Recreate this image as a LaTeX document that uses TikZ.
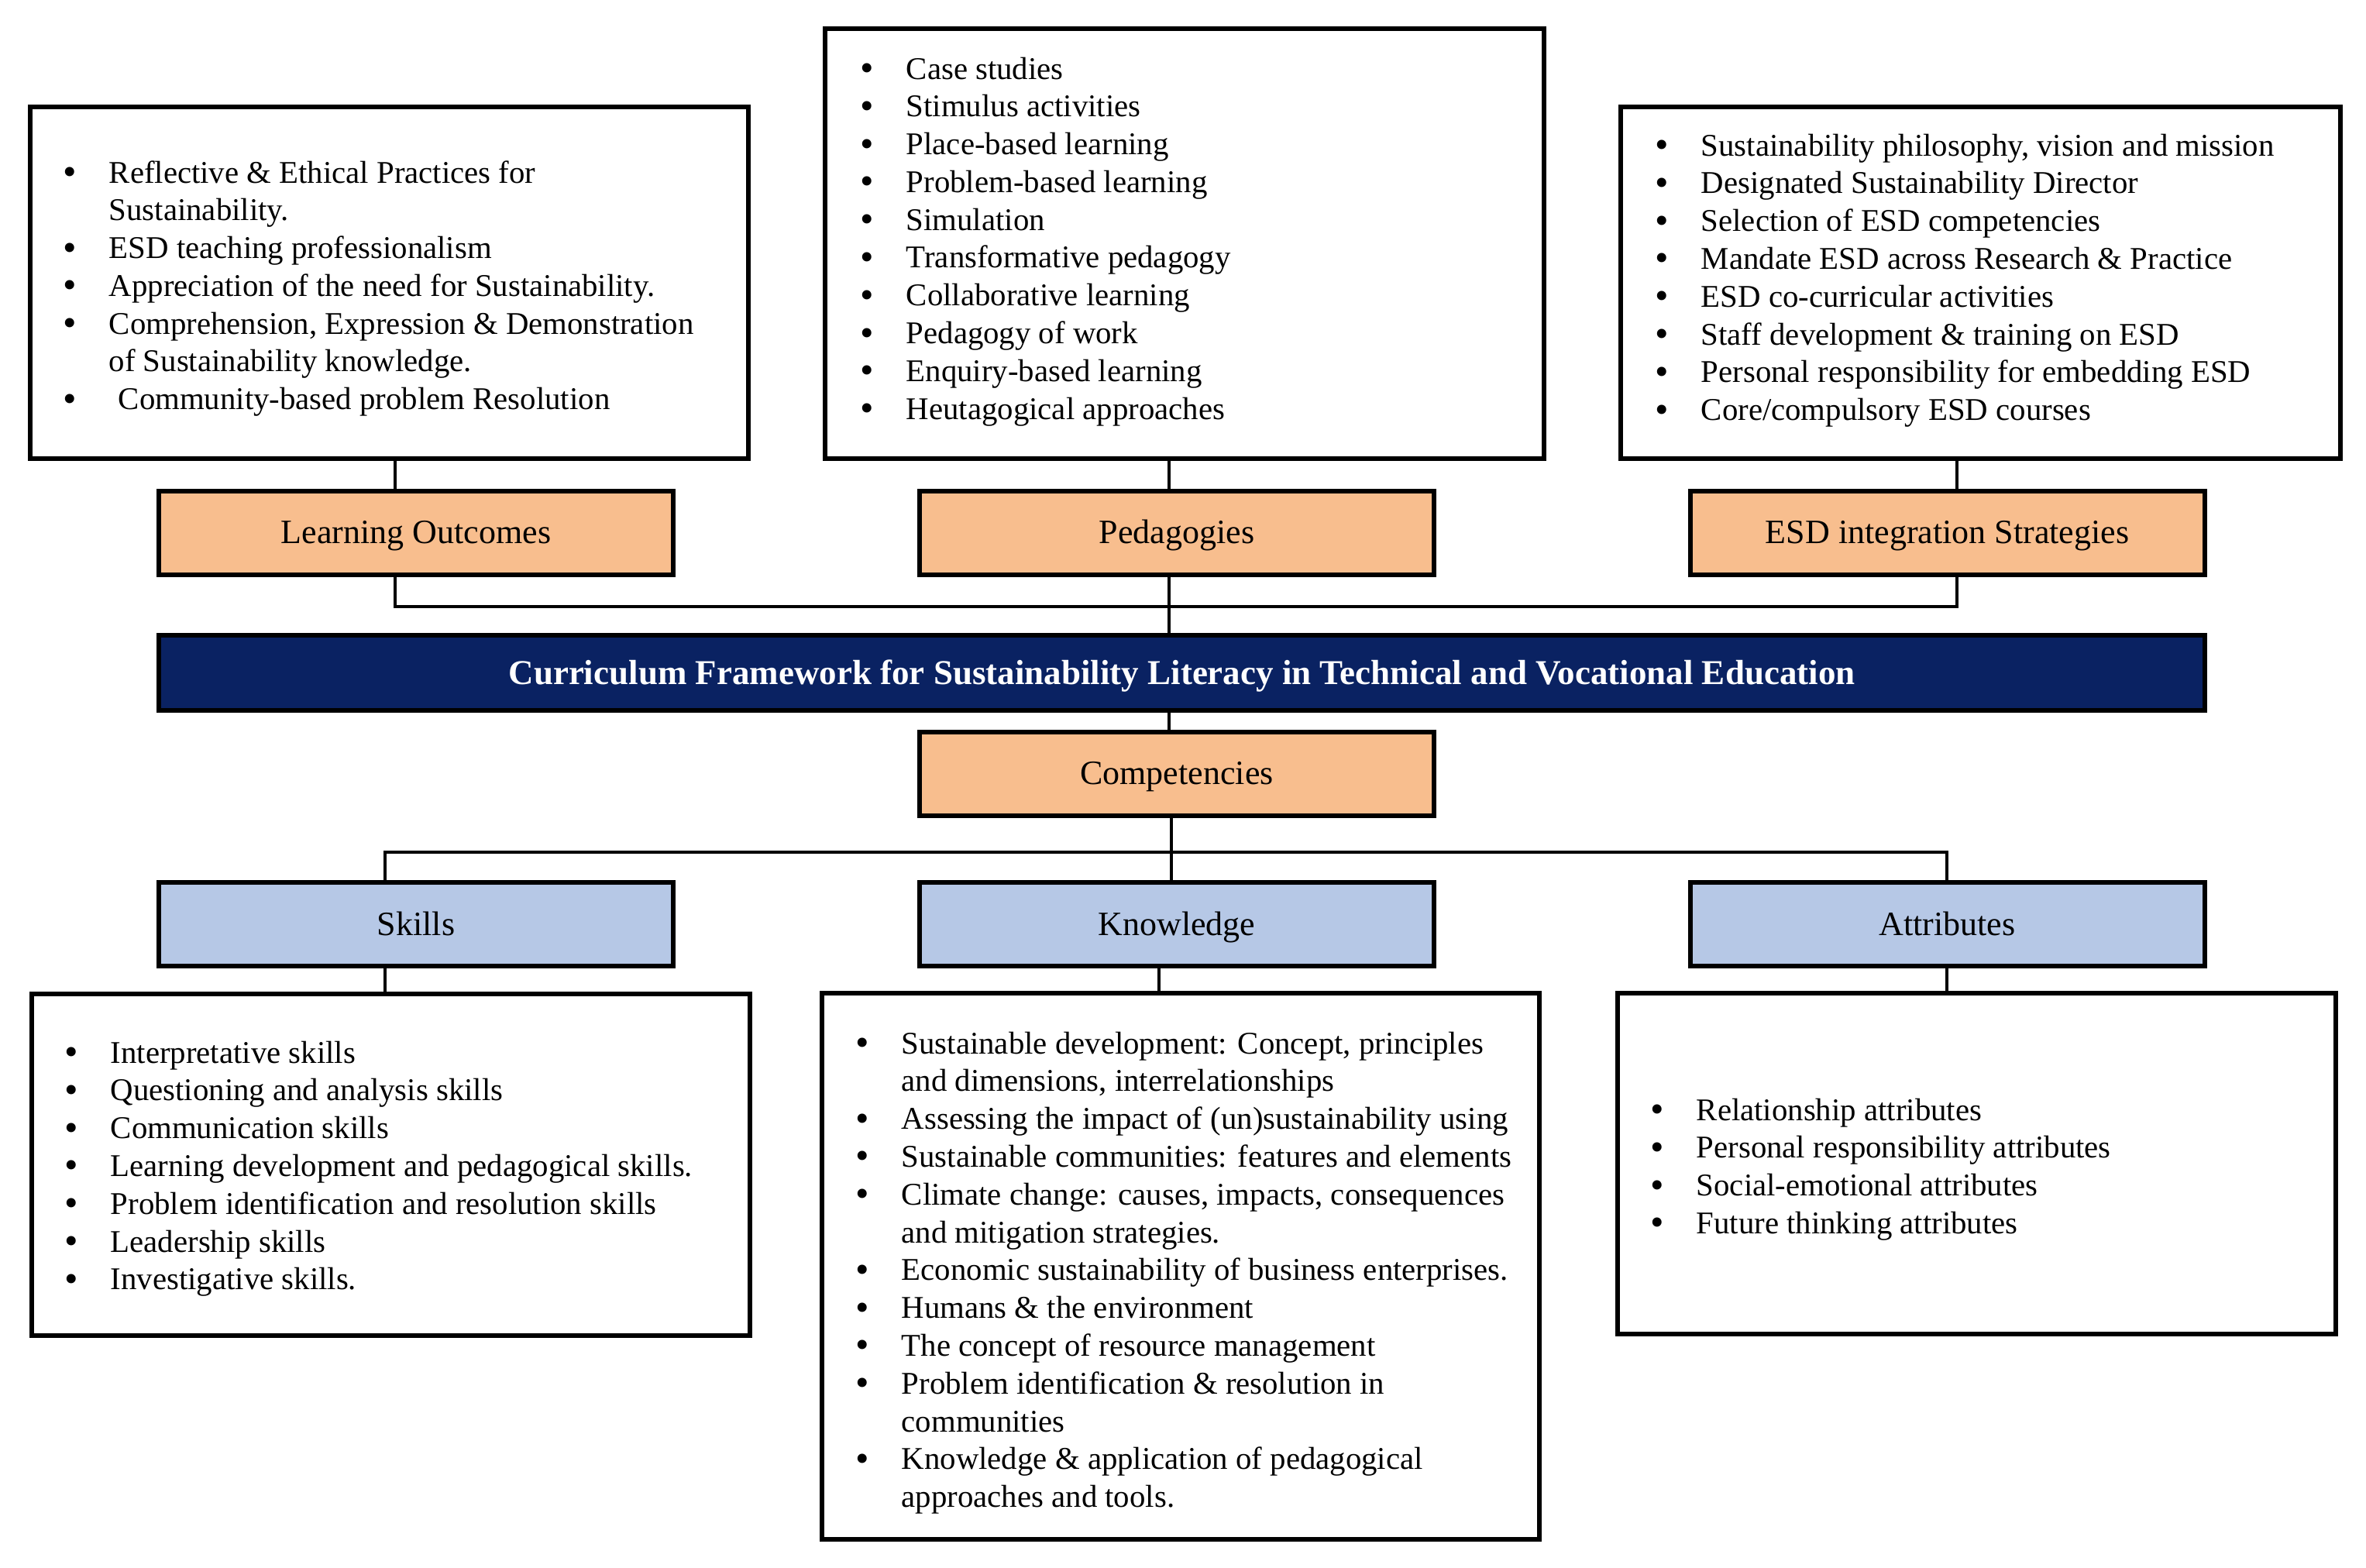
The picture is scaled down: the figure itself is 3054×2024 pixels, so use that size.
\documentclass[tikz,border=0pt]{standalone}
\usepackage{fontspec}
\setmainfont{Liberation Serif}
\usetikzlibrary{fit,calc}
\definecolor{peach}{RGB}{248,190,142}
\definecolor{paleblue}{RGB}{182,200,230}
\definecolor{navybar}{RGB}{10,34,98}
\newcommand{\listsize}{\fontsize{10.2}{12.2}\selectfont}
\newcommand{\bul}{\raisebox{-0.6pt}{\fontsize{12.5}{12}\selectfont\textbullet}}
\newenvironment{blist}{\begin{tabular}[t]{@{}p{14.75pt}@{}l@{}}}{\end{tabular}}
\tikzset{
  listbox/.style={draw=black, line width=1.7pt, fill=white, inner sep=0pt},
  lbl/.style={draw=black, line width=1.5pt, inner sep=0pt, font=\fontsize{11}{13}\selectfont, text=black,
    minimum width=166pt, minimum height=27pt, text height=7.2pt, text depth=0pt},
  orangebox/.style={lbl, fill=peach},
  bluebox/.style={lbl, fill=paleblue},
  titlebar/.style={draw=black, line width=1.5pt, fill=navybar, inner sep=0pt, text=white,
    font=\fontsize{11.25}{13}\selectfont\bfseries, minimum width=660.25pt, minimum height=24.25pt,
    text height=7.4pt, text depth=0pt},
  conn/.style={line width=0.8pt, draw=black},
  listtext/.style={anchor=base west, inner sep=0pt, font=\listsize, text=black},
}
\begin{document}
\begin{tikzpicture}[x=0.25pt, y=-0.25pt]
\useasboundingbox (0,0) rectangle (3054,2024);

% top list boxes
\node[listbox, fit={(39,138) (966,592)}] (lolist) {};
\node[listbox, fit={(1065,37) (1993,592)}] (pedlist) {};
\node[listbox, fit={(2092,138) (3021,592)}] (esdlist) {};

% orange labels
\node[orangebox] (lo) at (537,687.5) {Learning Outcomes};
\node[orangebox] (ped) at (1519,687.5) {Pedagogies};
\node[orangebox] (esd) at (2513.5,687.5) {ESD integration Strategies};

% title bar
\node[titlebar] (title) at (1525.5,868.5) {Curriculum Framework for Sustainability Literacy in Technical and Vocational Education};

% competencies
\node[orangebox] (comp) at (1519,998.5) {Competencies};

% blue labels
\node[bluebox] (skills) at (537,1193) {Skills};
\node[bluebox] (know) at (1519,1193) {Knowledge};
\node[bluebox] (attr) at (2513.5,1193) {Attributes};

% bottom list boxes
\node[listbox, fit={(41,1283) (968,1724)}] (skillslist) {};
\node[listbox, fit={(1061,1282) (1987,1987)}] (knowlist) {};
\node[listbox, fit={(2088,1282) (3015,1722)}] (attrlist) {};

% connector coordinates
\coordinate (busTL) at (510,783);
\coordinate (busTR) at (2526,783);
\coordinate (pedx) at (1509,0);
\coordinate (compx) at (1512,0);
\coordinate (busBL) at (497,1100);
\coordinate (busBR) at (2513,1100);
\coordinate (kx) at (1496,0);

% connectors (top)
\draw[conn] (lolist.south -| busTL) -- (lo.north -| busTL);
\draw[conn] (esdlist.south -| busTR) -- (esd.north -| busTR);
\draw[conn] (pedlist.south -| pedx) -- (ped.north -| pedx);
\draw[conn] (lo.south -| busTL) -- (busTL) -- (busTR) -- (esd.south -| busTR);
\draw[conn] (ped.south -| pedx) -- (title.north -| pedx);
\draw[conn] (title.south -| pedx) -- (comp.north -| pedx);
% connectors (bottom)
\draw[conn] (comp.south -| compx) -- (know.north -| compx);
\draw[conn] (skills.north -| busBL) -- (busBL) -- (busBR) -- (attr.north -| busBR);
\draw[conn] (skills.south -| busBL) -- (skillslist.north -| busBL);
\draw[conn] (know.south -| kx) -- (knowlist.north -| kx);
\draw[conn] (attr.south -| busBR) -- (attrlist.north -| busBR);

% list texts
\node[listtext] (lotext) at (81,236) {\begin{blist}
\bul & Reflective \& Ethical Practices for\\
 & Sustainability.\\
\bul & ESD teaching professionalism\\
\bul & Appreciation of the need for Sustainability.\\
\bul & Comprehension, Expression \& Demonstration\\
 & of Sustainability knowledge.\\
\bul & \hspace{3pt}Community-based problem Resolution
\end{blist}};

\node[listtext] (pedtext) at (1110,102) {\begin{blist}
\bul & Case studies\\
\bul & Stimulus activities\\
\bul & Place-based learning\\
\bul & Problem-based learning\\
\bul & Simulation\\
\bul & Transformative pedagogy\\
\bul & Collaborative learning\\
\bul & Pedagogy of work\\
\bul & Enquiry-based learning\\
\bul & Heutagogical approaches
\end{blist}};

\node[listtext] (esdtext) at (2136,201) {\begin{blist}
\bul & Sustainability philosophy, vision and mission\\
\bul & Designated Sustainability Director\\
\bul & Selection of ESD competencies\\
\bul & Mandate ESD across Research \& Practice\\
\bul & ESD co-curricular activities\\
\bul & Staff development \& training on ESD\\
\bul & Personal responsibility for embedding ESD\\
\bul & Core/compulsory ESD courses
\end{blist}};

\node[listtext] (skillstext) at (83,1372) {\begin{blist}
\bul & Interpretative skills\\
\bul & Questioning and analysis skills\\
\bul & Communication skills\\
\bul & Learning development and pedagogical skills.\\
\bul & Problem identification and resolution skills\\
\bul & Leadership skills\\
\bul & Investigative skills.
\end{blist}};

\node[listtext] (knowtext) at (1104,1360) {\begin{blist}
\bul & Sustainable development: Concept, principles\\
 & and dimensions, interrelationships\\
\bul & Assessing the impact of (un)sustainability using\\
\bul & Sustainable communities: features and elements\\
\bul & Climate change: causes, impacts, consequences\\
 & and mitigation strategies.\\
\bul & Economic sustainability of business enterprises.\\
\bul & Humans \& the environment\\
\bul & The concept of resource management\\
\bul & Problem identification \& resolution in\\
 & communities\\
\bul & Knowledge \& application of pedagogical\\
 & approaches and tools.
\end{blist}};

\node[listtext] (attrtext) at (2130,1446) {\begin{blist}
\bul & Relationship attributes\\
\bul & Personal responsibility attributes\\
\bul & Social-emotional attributes\\
\bul & Future thinking attributes
\end{blist}};
\end{tikzpicture}
\end{document}
